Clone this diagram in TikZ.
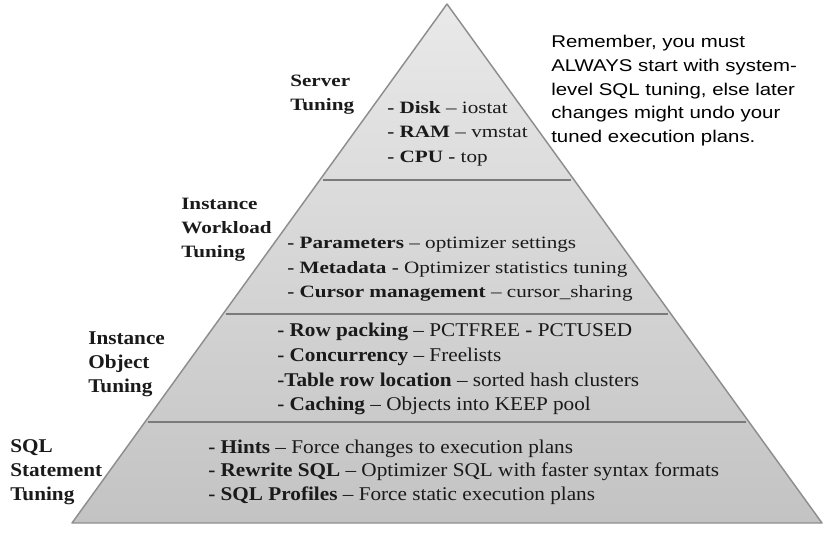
\documentclass[tikz,border=0pt]{standalone}
\usepackage{fontspec}
\setmainfont{Liberation Serif}
\newfontfamily\arialf{Liberation Sans}
\usetikzlibrary{calc}
\definecolor{ptop}{HTML}{E9E9E9}
\definecolor{pbot}{HTML}{C3C3C3}
\definecolor{pedgec}{HTML}{8E8E8E}
\definecolor{psepc}{HTML}{7A7A7A}
\definecolor{ptxt}{HTML}{1A1A1A}
\newcommand\sx[1]{\scalebox{1.22}[1]{#1}}
\newcommand\lx[1]{\scalebox{1.09}[1]{#1}}
\newcommand\ax[1]{\scalebox{1.2}[1]{#1}}
\begin{document}
\begin{tikzpicture}[x=0.75pt,y=-0.75pt,
  lbl/.style={anchor=base west, inner sep=0pt, font=\fontsize{13}{15}\selectfont\bfseries, text=ptxt},
  item/.style={anchor=base west, inner sep=0pt, font=\fontsize{13}{15}\selectfont, text=ptxt},
  lblb/.style={anchor=base west, inner sep=0pt, font=\fontsize{14.6}{17}\selectfont\bfseries, text=ptxt},
  itemb/.style={anchor=base west, inner sep=0pt, font=\fontsize{14.6}{17}\selectfont, text=ptxt},
  note/.style={anchor=base west, inner sep=0pt, font=\arialf\fontsize{12.75}{15}\selectfont, text=black},
  pedge/.style={draw=pedgec, line width=1.1pt, line join=round},
  psep/.style={draw=psepc, line width=1.1pt}]
\useasboundingbox (0,0) rectangle (831,532);
\coordinate (apex) at (447,4);
\coordinate (bl) at (72,523);
\coordinate (br) at (822,523);
\shade[top color=ptop, bottom color=pbot] (apex) -- (br) -- (bl) -- cycle;
\draw[pedge] (apex) -- (br) -- (bl) -- cycle;
\foreach \t/\n in {0.339/a,0.597/b,0.805/c}{
  \coordinate (L\n) at ($(apex)!\t!(bl)$);
  \coordinate (R\n) at ($(apex)!\t!(br)$);
  \draw[psep] ($(L\n)+(3,0)$) -- ($(R\n)+(-3,0)$);
}
% Server tuning
\node[lbl] (s1) at (290,86) {\sx{Server}};
\node[lbl] (s2) at (290,110) {\sx{Tuning}};
\node[item] (s3) at (387,113) {\sx{\textbf{- Disk} -- iostat}};
\node[item] (s4) at (387,137) {\sx{\textbf{- RAM} -- vmstat}};
\node[item] (s5) at (387,162) {\sx{\textbf{- CPU -} top}};
% Instance workload
\node[lbl] (w1) at (181,209) {\sx{Instance}};
\node[lbl] (w2) at (181,233) {\sx{Workload}};
\node[lbl] (w3) at (181,257) {\sx{Tuning}};
\node[item] (w4) at (287,248) {\sx{\textbf{- Parameters} -- optimizer settings}};
\node[item] (w5) at (287,273) {\sx{\textbf{- Metadata -} Optimizer statistics tuning}};
\node[item] (w6) at (287,297) {\sx{\textbf{- Cursor management} -- cursor\_sharing}};
% Instance object
\node[lblb] (o1) at (88,344) {\lx{Instance}};
\node[lblb] (o2) at (88,368) {\lx{Object}};
\node[lblb] (o3) at (88,392) {\lx{Tuning}};
\node[itemb] (o4) at (277,336) {\lx{\textbf{- Row packing} -- PCTFREE \textbf{-} PCTUSED}};
\node[itemb] (o5) at (277,361) {\lx{\textbf{- Concurrency} -- Freelists}};
\node[itemb] (o6) at (277,386) {\lx{\textbf{-Table row location} -- sorted hash clusters}};
\node[itemb] (o7) at (277,410) {\lx{\textbf{- Caching} -- Objects into KEEP pool}};
% SQL statement
\node[lblb] (q1) at (10,452) {\lx{SQL}};
\node[lblb] (q2) at (10,476) {\lx{Statement}};
\node[lblb] (q3) at (10,500) {\lx{Tuning}};
\node[itemb] (q4) at (208,453) {\lx{\textbf{- Hints} -- Force changes to execution plans}};
\node[itemb] (q5) at (208,476) {\lx{\textbf{- Rewrite SQL} -- Optimizer SQL with faster syntax formats}};
\node[itemb] (q6) at (208,500) {\lx{\textbf{- SQL Profiles} -- Force static execution plans}};
% note
\node[note] (n1) at (551,47) {\ax{Remember, you must}};
\node[note] (n2) at (551,71) {\ax{ALWAYS start with system-}};
\node[note] (n3) at (551,95) {\ax{level SQL tuning, else later}};
\node[note] (n4) at (551,118) {\ax{changes might undo your}};
\node[note] (n5) at (551,142) {\ax{tuned execution plans.}};
\end{tikzpicture}
\end{document}
